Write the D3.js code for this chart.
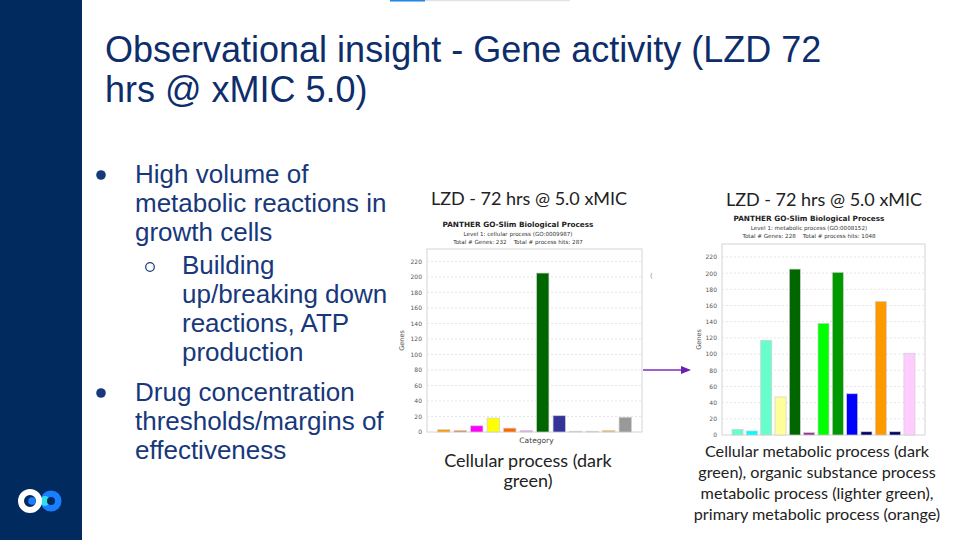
<!DOCTYPE html>
<html>
<head>
<meta charset="utf-8">
<script src="https://cdn.jsdelivr.net/npm/d3@7"></script>
<style>
  body { margin: 0; background: #fff; }
  svg { display: block; }
</style>
</head>
<body>
<svg id="slide" width="960" height="540"></svg>
<script>
// slide text
const titleLines = ["Observational insight - Gene activity (LZD 72", "hrs @ xMIC 5.0)"];
const bullets = [
  { level: 0, lines: ["High volume of", "metabolic reactions in", "growth cells"], y: 183 },
  { level: 1, lines: ["Building", "up/breaking down", "reactions, ATP", "production"], y: 274 },
  { level: 0, lines: ["Drug concentration", "thresholds/margins of", "effectiveness"], y: 401 }
];

// left chart: cellular process (GO:0009987)
const leftCats = ["c01", "c02", "c03", "c04", "c05", "c06", "c07", "c08", "c09", "c10", "c11", "c12"];
const leftGenes = [3, 2, 8, 18, 5, 2, 205, 21, 1, 1, 2, 19];
const leftColors = ["#ff9900", "#ee7a3a", "#ff00ff", "#ffff00", "#ff6600", "#ee99ee",
  "#006600", "#333399", "#77dd77", "#bbddbb", "#eebb44", "#999999"];

// right chart: metabolic process (GO:0008152)
const rightCats = ["m01", "m02", "m03", "m04", "m05", "m06", "m07", "m08", "m09", "m10", "m11", "m12", "m13"];
const rightGenes = [7, 5, 117, 47, 205, 3, 138, 201, 51, 4, 165, 4, 101];
const rightColors = ["#66ffcc", "#00ffff", "#66ffcc", "#ffff99", "#006600", "#993399",
  "#00ff00", "#009900", "#0000ff", "#000066", "#ff9900", "#000066", "#ffccff"];

const yTicks = [0, 20, 40, 60, 80, 100, 120, 140, 160, 180, 200, 220];

const svg = d3.select("#slide");
const navy = "#012b5e";
const textBlue = "#17387a";

// sidebar + logo
svg.append("rect").attr("x", 0).attr("y", 0).attr("width", 82).attr("height", 540).attr("fill", navy);
svg.append("circle").attr("cx", 51).attr("cy", 501).attr("r", 10.5).attr("fill", "#1a7fff");
svg.append("circle").attr("cx", 45).attr("cy", 501).attr("r", 5).attr("fill", "#33ddee");
svg.append("circle").attr("cx", 51).attr("cy", 501).attr("r", 4).attr("fill", navy);
svg.append("circle").attr("cx", 30).attr("cy", 501).attr("r", 9).attr("fill", "none")
  .attr("stroke", "#fff").attr("stroke-width", 6);
svg.append("circle").attr("cx", 32).attr("cy", 501).attr("r", 3.8).attr("fill", "#1a7fff");

// top progress line
svg.append("rect").attr("x", 390).attr("y", 0).attr("width", 180).attr("height", 1.2).attr("fill", "#e2e2e2");
svg.append("rect").attr("x", 390).attr("y", 0).attr("width", 35).attr("height", 1.5).attr("fill", "#1e88e5");

// title
svg.append("text")
  .attr("x", 105).attr("y", 62)
  .attr("font-family", "Liberation Sans, Arial, sans-serif")
  .attr("font-size", 36).attr("fill", "#0e2d6b")
  .selectAll("tspan").data(titleLines).join("tspan")
  .attr("x", 105).attr("dy", (d, i) => i ? 40 : 0)
  .text(d => d);

// bullets
bullets.forEach(b => {
  const tx = b.level ? 182 : 135;
  if (b.level) {
    svg.append("circle").attr("cx", 150).attr("cy", b.y - 7).attr("r", 4.3)
      .attr("fill", "none").attr("stroke", textBlue).attr("stroke-width", 1.2);
  } else {
    svg.append("circle").attr("cx", 101).attr("cy", b.y - 8).attr("r", 4.8).attr("fill", textBlue);
  }
  svg.append("text")
    .attr("x", tx).attr("y", b.y)
    .attr("font-family", "Liberation Sans, Arial, sans-serif")
    .attr("font-size", 26).attr("fill", textBlue)
    .selectAll("tspan").data(b.lines).join("tspan")
    .attr("x", tx).attr("dy", (d, i) => i ? 29 : 0)
    .text(d => d);
});

function drawChart(cfg) {
  const g = svg.append("g");
  const x = d3.scaleBand().domain(cfg.cats).range([cfg.left, cfg.right])
    .paddingInner(cfg.padIn).paddingOuter(cfg.padOut);
  const y = d3.scaleLinear().domain([0, 236]).range([cfg.bottom, cfg.top]);

  // heading over the chart
  g.append("text").attr("x", cfg.headX).attr("y", cfg.headY)
    .attr("text-anchor", "middle").attr("font-family", "Lato, sans-serif")
    .attr("font-size", 18).attr("fill", "#222").text("LZD - 72 hrs @ 5.0 xMIC");

  const sub = g.append("g").attr("font-family", "DejaVu Sans, sans-serif")
    .attr("text-anchor", "middle").attr("fill", "#333");
  sub.append("text").attr("x", cfg.titleX).attr("y", cfg.titleY)
    .attr("font-size", 7.3).attr("font-weight", "bold").attr("fill", "#222")
    .text("PANTHER GO-Slim Biological Process");
  sub.append("text").attr("x", cfg.titleX).attr("y", cfg.titleY + 8.5)
    .attr("font-size", 5.6).text(cfg.level);
  sub.append("text").attr("x", cfg.titleX).attr("y", cfg.titleY + 17)
    .attr("font-size", 5.6).attr("xml:space", "preserve").text(cfg.totals);

  g.append("rect").attr("x", cfg.left).attr("y", cfg.top)
    .attr("width", cfg.right - cfg.left).attr("height", cfg.bottom - cfg.top)
    .attr("fill", "#fff").attr("stroke", "#d4d4d4").attr("stroke-width", 1);

  g.append("g").selectAll("line").data(yTicks.slice(1)).join("line")
    .attr("x1", cfg.left).attr("x2", cfg.right)
    .attr("y1", d => y(d)).attr("y2", d => y(d))
    .attr("stroke", "#e6e6e6").attr("stroke-dasharray", "2,2");

  const ax = g.append("g").attr("transform", `translate(${cfg.left - 2},0)`)
    .call(d3.axisLeft(y).tickValues(yTicks).tickSize(0).tickPadding(3));
  ax.select(".domain").remove();
  ax.selectAll("text").attr("font-family", "DejaVu Sans, sans-serif")
    .attr("font-size", 6).attr("fill", "#555");

  g.append("text").attr("transform", `translate(${cfg.genesX},${(cfg.top + cfg.bottom) / 2}) rotate(-90)`)
    .attr("text-anchor", "middle").attr("font-family", "DejaVu Sans, sans-serif")
    .attr("font-size", 6.5).attr("fill", "#555").text("Genes");

  g.append("g").selectAll("rect").data(cfg.cats).join("rect")
    .attr("x", d => x(d)).attr("width", x.bandwidth())
    .attr("y", (d, i) => y(cfg.vals[i]))
    .attr("height", (d, i) => cfg.bottom - y(cfg.vals[i]))
    .attr("fill", (d, i) => cfg.colors[i])
    .attr("stroke", "#cfcfcf").attr("stroke-width", 0.7);

  if (cfg.showCat) {
    g.append("text").attr("x", (cfg.left + cfg.right) / 2 + 2).attr("y", cfg.bottom + 11)
      .attr("text-anchor", "middle").attr("font-family", "DejaVu Sans, sans-serif")
      .attr("font-size", 7.5).attr("fill", "#444").text("Category");
  }

  g.append("text").attr("font-family", "Lato, sans-serif").attr("font-size", cfg.capSize)
    .attr("text-anchor", "middle").attr("fill", "#222")
    .selectAll("tspan").data(cfg.caption).join("tspan")
    .attr("x", cfg.capX).attr("y", (d, i) => cfg.capY + i * cfg.capStep)
    .text(d => d);
}

drawChart({
  cats: leftCats, vals: leftGenes, colors: leftColors,
  left: 427, right: 642, top: 249, bottom: 432, padIn: 0.25, padOut: 0.64,
  headX: 529, headY: 205, titleX: 518, titleY: 227,
  level: "Level 1: cellular process (GO:0009987)",
  totals: "Total # Genes: 232    Total # process hits: 287",
  genesX: 404, showCat: true,
  caption: ["Cellular process (dark", "green)"], capX: 528, capY: 467, capStep: 20, capSize: 18
});

drawChart({
  cats: rightCats, vals: rightGenes, colors: rightColors,
  left: 722, right: 925, top: 244, bottom: 435, padIn: 0.23, padOut: 0.7,
  headX: 824, headY: 206, titleX: 809, titleY: 221,
  level: "Level 1: metabolic process (GO:0008152)",
  totals: "Total # Genes: 228    Total # process hits: 1048",
  genesX: 701, showCat: false,
  caption: ["Cellular metabolic process (dark", "green), organic substance process",
    "metabolic process (lighter green),", "primary metabolic process (orange)"],
  capX: 817, capY: 457, capStep: 21, capSize: 16.2
});

// stray glyph and arrow between the charts
svg.append("text").attr("x", 650).attr("y", 278).attr("font-family", "DejaVu Sans, sans-serif")
  .attr("font-size", 7).attr("fill", "#888").text("(");
svg.append("line").attr("x1", 643).attr("y1", 370).attr("x2", 683).attr("y2", 370)
  .attr("stroke", "#7b2fbf").attr("stroke-width", 1.5);
svg.append("path").attr("d", "M681,366 L691,370 L681,374 Z").attr("fill", "#6a1fb0");
</script>
</body>
</html>
